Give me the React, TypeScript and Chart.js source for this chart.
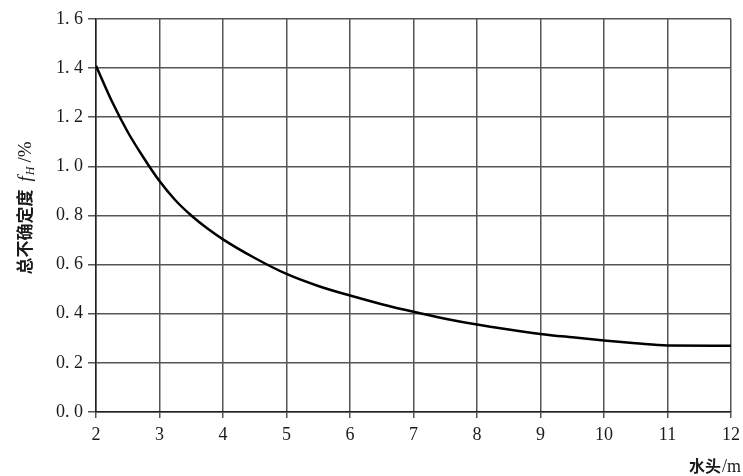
import React, { useEffect, useRef } from "react";
import { Chart, registerables } from "chart.js";

Chart.register(...registerables);

const headValues = [2, 2.25, 2.5, 2.75, 3, 3.25, 3.5, 3.75, 4, 4.5, 5, 5.5, 6, 6.5, 7, 7.5, 8, 8.5, 9, 9.5, 10, 10.5, 11, 12];
const uncertaintyValues = [1.41, 1.265, 1.14, 1.035, 0.94, 0.862, 0.8, 0.748, 0.703, 0.627, 0.562, 0.513, 0.474, 0.439, 0.408, 0.38, 0.356, 0.336, 0.318, 0.304, 0.291, 0.28, 0.271, 0.27];
const xTickValues = [2, 3, 4, 5, 6, 7, 8, 9, 10, 11, 12];
const yTickLabels = ["0. 0", "0. 2", "0. 4", "0. 6", "0. 8", "1. 0", "1. 2", "1. 4", "1. 6"];

const SERIF = "'Liberation Serif', 'DejaVu Serif', serif";
const CJK = "'Noto Sans CJK SC', sans-serif";

const titlePlugin = {
  id: "axisTitles",
  afterDraw(chart: any) {
    const ctx = chart.ctx as CanvasRenderingContext2D;
    // Y title (rotated)
    ctx.save();
    ctx.fillStyle = "#1a1a1a";
    ctx.textBaseline = "alphabetic";
    const segs = [
      { t: "总不确定度", f: `bold 17px ${CJK}`, dy: 0, gap: 8 },
      { t: "f", f: `italic 19px ${SERIF}`, dy: 0, gap: 1 },
      { t: "H", f: `italic 12px ${SERIF}`, dy: 3, gap: 4 },
      { t: "/%", f: `19px ${SERIF}`, dy: 0, gap: 0 },
    ];
    let total = 0;
    const widths = segs.map((s) => {
      ctx.font = s.f;
      const w = ctx.measureText(s.t).width;
      total += w + s.gap;
      return w;
    });
    ctx.translate(31, 208);
    ctx.rotate(-Math.PI / 2);
    let x = -total / 2;
    segs.forEach((s, i) => {
      ctx.font = s.f;
      ctx.fillText(s.t, x, s.dy);
      x += widths[i] + s.gap;
    });
    ctx.restore();

    // X title
    ctx.save();
    ctx.fillStyle = "#1a1a1a";
    ctx.textBaseline = "alphabetic";
    const xs = [
      { t: "水头", f: `bold 16px ${CJK}`, gap: 1 },
      { t: "/m", f: `18px ${SERIF}`, gap: 0 },
    ];
    let tw = 0;
    const xw = xs.map((s) => {
      ctx.font = s.f;
      const w = ctx.measureText(s.t).width;
      tw += w + s.gap;
      return w;
    });
    let px = 741 - tw;
    xs.forEach((s, i) => {
      ctx.font = s.f;
      ctx.fillText(s.t, px, 472);
      px += xw[i] + s.gap;
    });
    ctx.restore();
  },
};

export default function App() {
  const ref = useRef<HTMLCanvasElement>(null);
  useEffect(() => {
    if (!ref.current) return;
    const chart = new Chart(ref.current, {
      type: "line",
      data: {
        datasets: [
          {
            data: headValues.map((h, i) => ({ x: h, y: uncertaintyValues[i] })),
            borderColor: "#000",
            borderWidth: 2.5,
            pointRadius: 0,
            cubicInterpolationMode: "monotone",
            fill: false,
          },
        ],
      },
      options: {
        animation: false,
        responsive: true,
        maintainAspectRatio: false,
        layout: { padding: { left: 0, right: 12, top: 19, bottom: 0 } },
        plugins: { legend: { display: false }, tooltip: { enabled: false } },
        scales: {
          x: {
            type: "linear",
            min: 2,
            max: 12,
            afterBuildTicks: (s: any) => {
              s.ticks = xTickValues.map((v) => ({ value: v }));
            },
            afterFit: (s: any) => {
              s.height = 64;
              s.paddingRight = 0;
              s.paddingLeft = 0;
            },
            ticks: {
              color: "#1a1a1a",
              font: { family: SERIF, size: 18 },
              padding: 6,
              maxRotation: 0,
              autoSkip: false,
              callback: (v: any) => String(v),
            },
            grid: { color: "#555", lineWidth: 1.5, tickLength: 6 },
            border: { color: "#222", width: 1.5 },
          },
          y: {
            type: "linear",
            min: 0,
            max: 1.6,
            afterBuildTicks: (s: any) => {
              s.ticks = yTickLabels.map((_, i) => ({ value: i * 0.2 }));
            },
            afterFit: (s: any) => {
              s.width = 96;
            },
            ticks: {
              color: "#1a1a1a",
              font: { family: SERIF, size: 18 },
              padding: 5,
              autoSkip: false,
              callback: (_v: any, i: number) => yTickLabels[i],
            },
            grid: { color: "#555", lineWidth: 1.5, tickLength: 8 },
            border: { color: "#222", width: 1.5 },
          },
        },
      },
      plugins: [titlePlugin],
    } as any);
    return () => chart.destroy();
  }, []);
  return (
    <div style={{ position: "fixed", left: 0, top: 0, width: 743, height: 476, background: "#fff" }}>
      <canvas ref={ref} />
    </div>
  );
}
